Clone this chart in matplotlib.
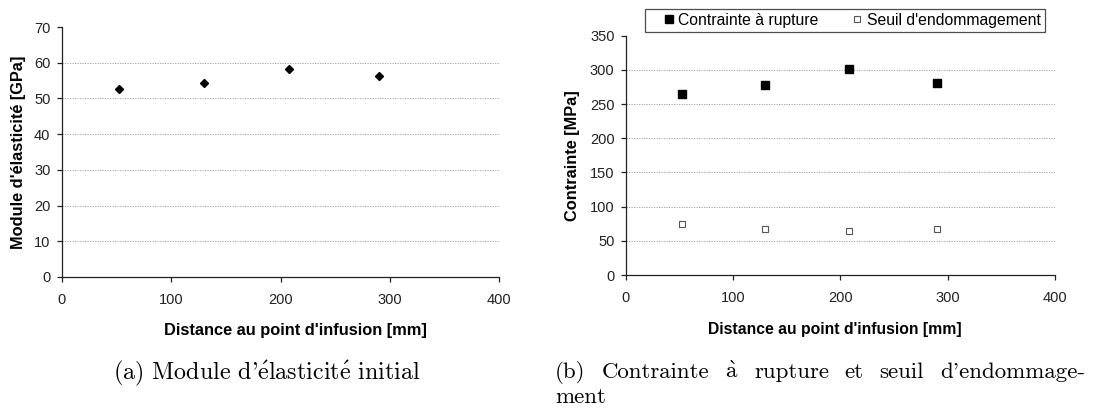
import matplotlib
matplotlib.use("Agg")
import matplotlib.pyplot as plt

# Distance au point d'infusion [mm]
DISTANCE = [52, 130, 208, 290]
# Module d'élasticité initial [GPa]
MODULUS = [52.6, 54.4, 58.2, 56.3]
# Contraintes [MPa]
RUPTURE = [265, 278, 301, 281]
DAMAGE = [74, 68, 65, 67]

X_TICKS = [0, 100, 200, 300, 400]
Y_TICKS_LEFT = [0, 10, 20, 30, 40, 50, 60, 70]
Y_TICKS_RIGHT = [0, 50, 100, 150, 200, 250, 300, 350]

SANS = ["Liberation Sans", "DejaVu Sans"]
SERIF = ["cmr10", "DejaVu Serif"]
E_ACUTE = r"$\mathrm{\acute{e}}$"
A_GRAVE = r"$\mathrm{\grave{a}}$"

W, H = 1099, 415

plt.rcParams["font.family"] = SANS
plt.rcParams["axes.unicode_minus"] = False
plt.rcParams["mathtext.fontset"] = "cm"


def style_axes(ax, yticks):
    ax.set_xlim(X_TICKS[0], X_TICKS[-1])
    ax.set_ylim(yticks[0], yticks[-1])
    ax.set_xticks(X_TICKS)
    ax.set_yticks(yticks)
    for side in ("top", "right"):
        ax.spines[side].set_visible(False)
    for side in ("left", "bottom"):
        ax.spines[side].set_color("#222222")
        ax.spines[side].set_linewidth(0.9)
    ax.tick_params(direction="out", length=3.8, width=0.9, color="#222222",
                   labelsize=10.5, labelcolor="#222222")
    ax.tick_params(axis="x", pad=7.5)
    ax.tick_params(axis="y", pad=4.5)
    ax.yaxis.grid(True, linestyle=(0, (1.5, 1.5)), linewidth=0.6, color="#9a9a9a")
    ax.set_axisbelow(True)
    # no grid line on the top tick (no frame there) nor on the x axis
    ax.get_ygridlines()[-1].set_visible(False)
    ax.get_ygridlines()[0].set_visible(False)


fig = plt.figure(figsize=(W / 100, H / 100), dpi=100)

# (a) module
ax1 = fig.add_axes([62 / W, (H - 277) / H, 437 / W, 250 / H])
style_axes(ax1, Y_TICKS_LEFT)
ax1.plot(DISTANCE, MODULUS, linestyle="none", marker="D", markersize=4.4,
         color="black", clip_on=False)
ax1.set_xlabel("Distance au point d'infusion [mm]", fontsize=11.8, fontweight="bold", va="center")
ax1.xaxis.set_label_coords((295 - 62) / 437, (277 - 330) / 250)
ax1.set_ylabel("Module d'élasticité [GPa]", fontsize=11.8, fontweight="bold", va="center")
ax1.yaxis.set_label_coords((18 - 62) / 437, 0.5)

# (b) contraintes
ax2 = fig.add_axes([626 / W, (H - 275) / H, 429 / W, 239.3 / H])
style_axes(ax2, Y_TICKS_RIGHT)
ax2.plot(DISTANCE, RUPTURE, linestyle="none", marker="s", markersize=5.2,
         color="black", label="Contrainte à rupture", clip_on=False)
ax2.plot(DISTANCE, DAMAGE, linestyle="none", marker="s", markersize=4.6,
         markerfacecolor="white", markeredgecolor="#555555", markeredgewidth=0.8,
         label="Seuil d'endommagement", clip_on=False)
ax2.set_xlabel("Distance au point d'infusion [mm]", fontsize=11.3, fontweight="bold", va="center")
ax2.xaxis.set_label_coords((835 - 626) / 429, (275 - 329) / 239.3)
ax2.set_ylabel("Contrainte [MPa]", fontsize=11.8, fontweight="bold", va="center")
ax2.yaxis.set_label_coords((573 - 626) / 429, 0.5)

leg = ax2.legend(loc="lower center", bbox_to_anchor=((845 - 626) / 429, (275 - 31.7) / 239.3),
                 ncol=2, frameon=True, fancybox=False, fontsize=11.3, borderaxespad=0,
                 handlelength=2.5, handletextpad=-0.65, columnspacing=1.2,
                 borderpad=0.25, markerscale=1.0)
leg.get_frame().set_edgecolor("#222222")
leg.get_frame().set_linewidth(0.9)

# captions
fig.text(267 / W, (H - 373) / H,
         "(a) Module d'" + E_ACUTE + "lasticit" + E_ACUTE + " initial",
         family=SERIF, fontsize=17.3, ha="center", va="center")

# justified first line for caption (b)
words = ["(b)", "Contrainte", A_GRAVE, "rupture", "et", "seuil", "d'endommage-"]
x_left, x_right = 555, 1085
y_line1, y_line2 = H - 372, H - 397
renderer = fig.canvas.get_renderer()
texts = [fig.text(0, y_line1 / H, w, family=SERIF, fontsize=16.5, ha="left", va="baseline")
         for w in words]
widths = [t.get_window_extent(renderer).width for t in texts]
gap = (x_right - x_left - sum(widths)) / (len(words) - 1)
x = x_left
for t, w in zip(texts, widths):
    t.set_x(x / W)
    t.set_y((y_line1 - 6) / H)
    x += w + gap
fig.text(x_left / W, (y_line2 - 6) / H, "ment", family=SERIF, fontsize=16.5,
         ha="left", va="baseline")

fig.savefig("out.png", dpi=100)
